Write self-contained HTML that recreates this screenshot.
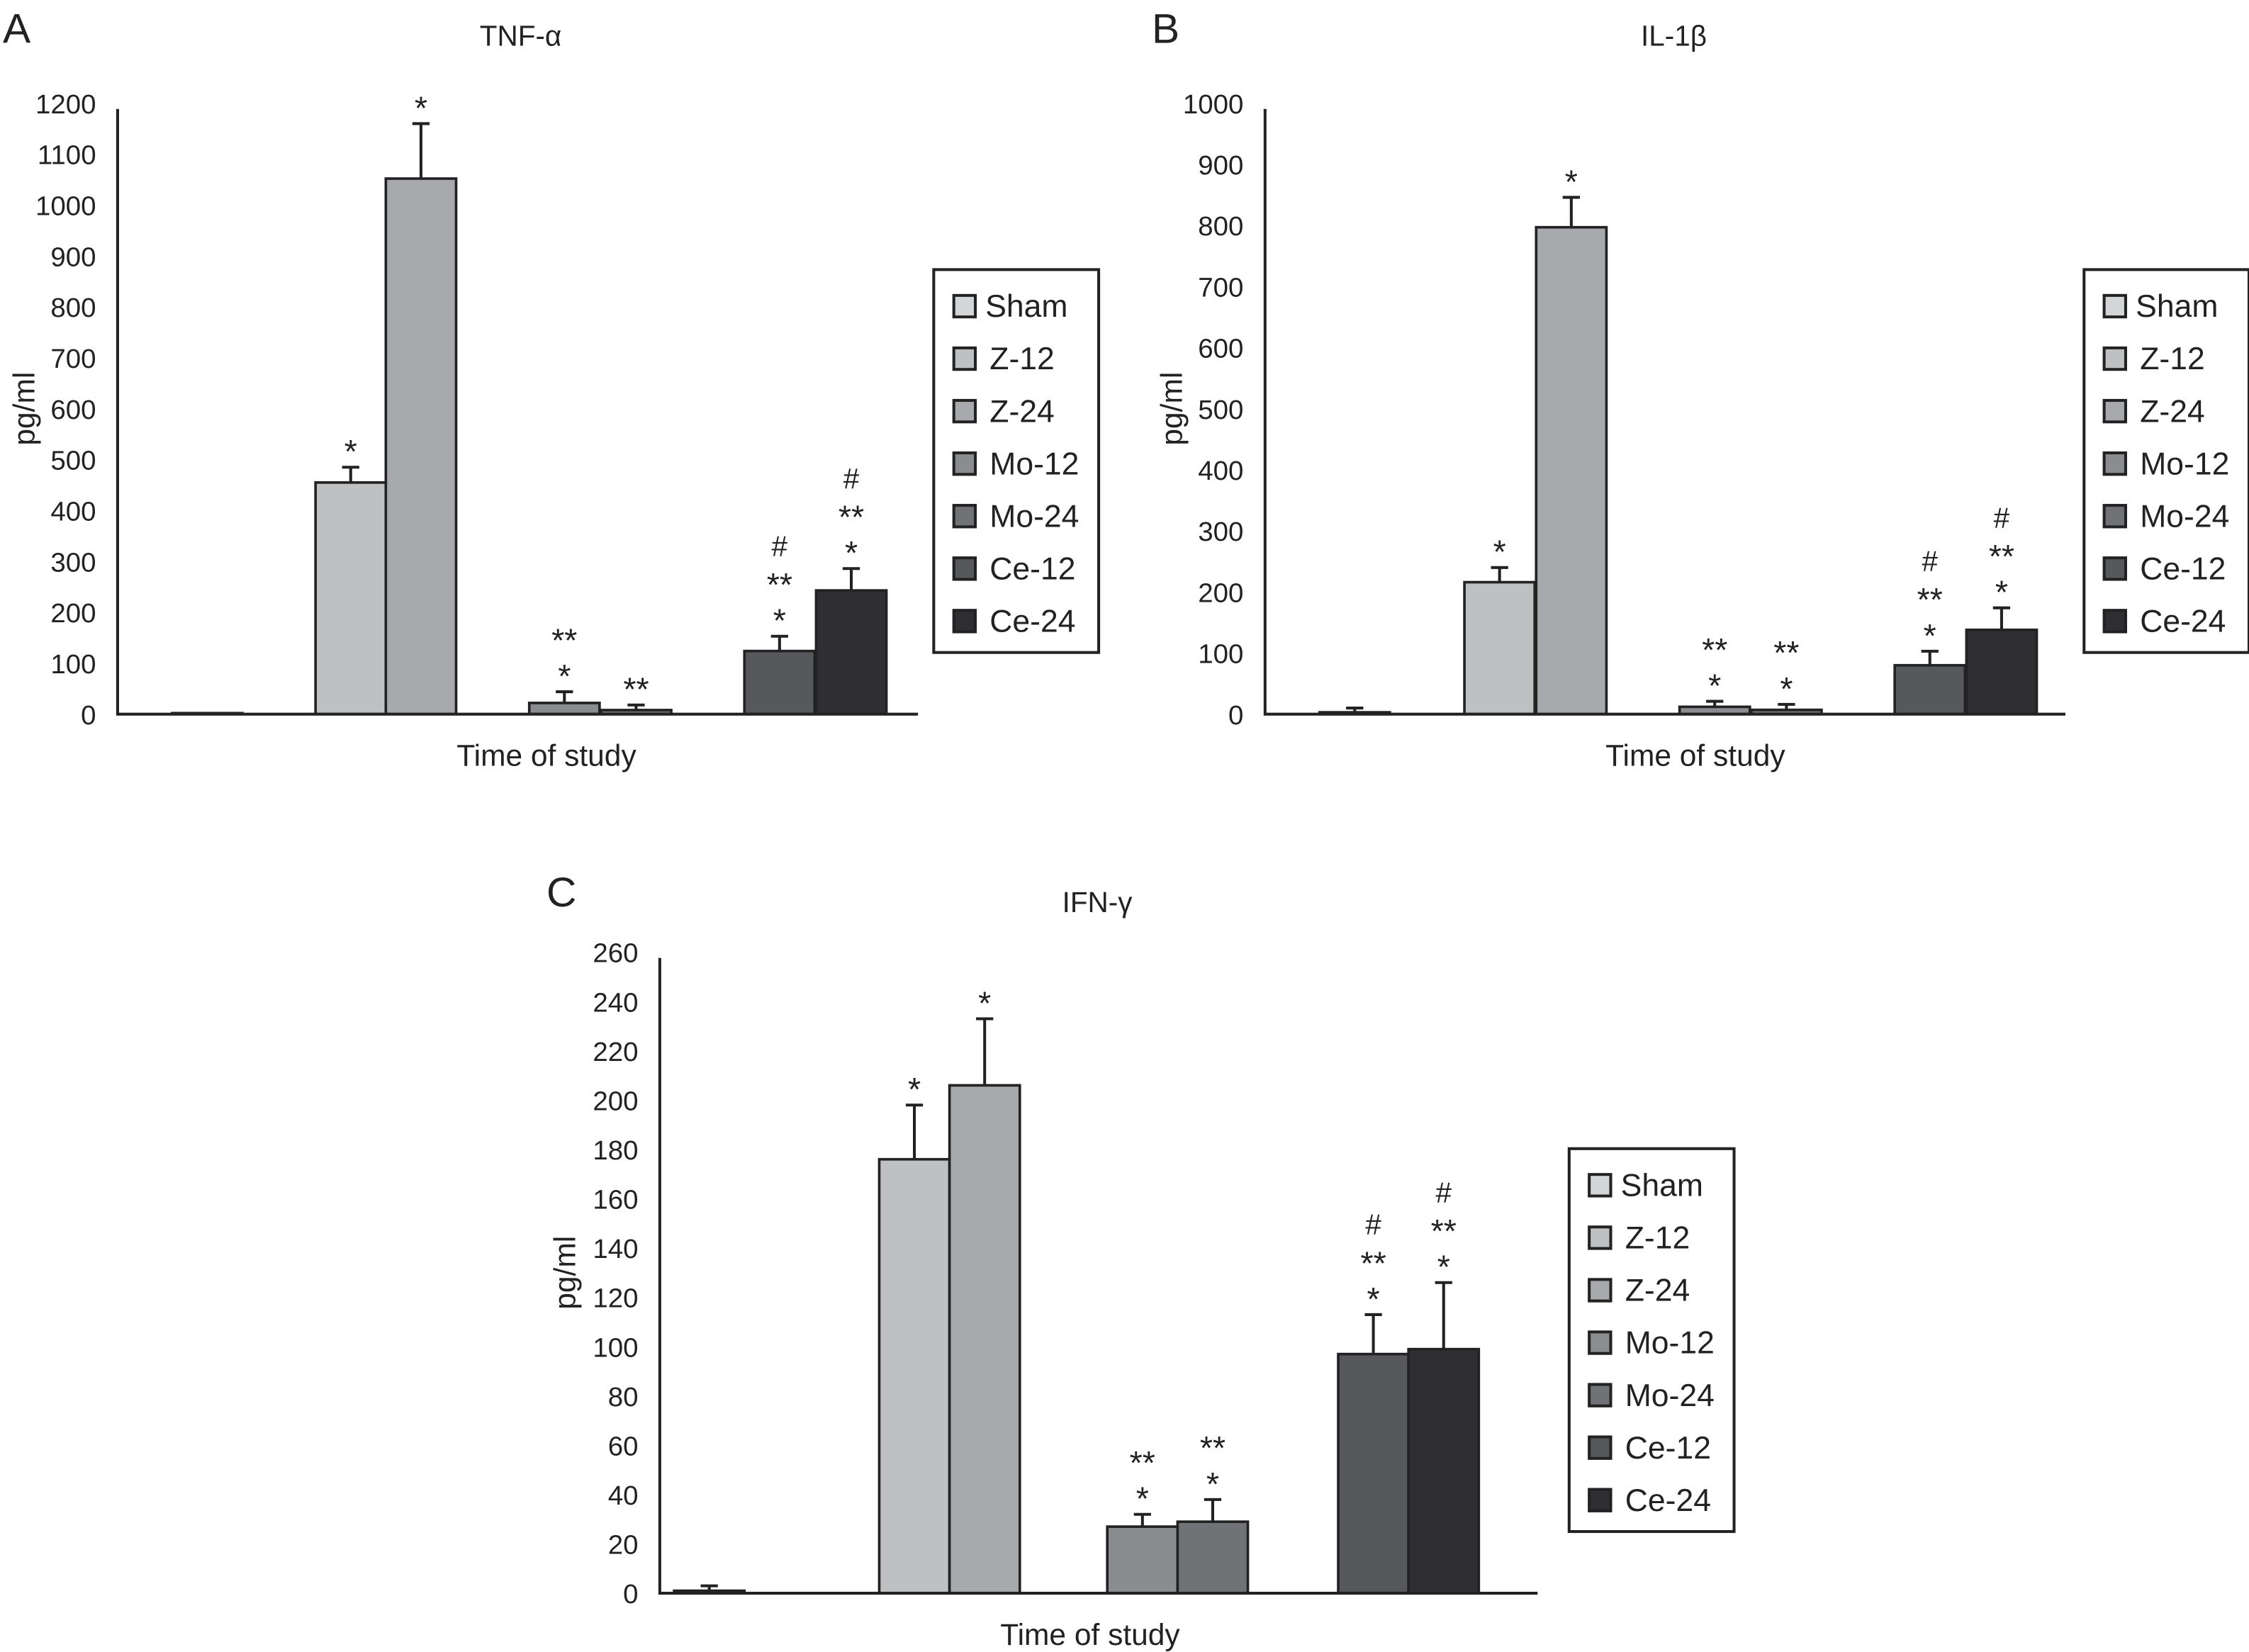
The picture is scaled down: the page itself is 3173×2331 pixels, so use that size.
<!DOCTYPE html>
<html><head><meta charset="utf-8"><style>
html,body{margin:0;padding:0;background:#fff;}
svg{display:block;font-family:"Liberation Sans",sans-serif;}
</style></head><body>
<svg id="fig" width="3173" height="2331" viewBox="0 0 1568 1152" preserveAspectRatio="none"></svg>
<script>
const seriesNames = ["Sham","Z-12","Z-24","Mo-12","Mo-24","Ce-12","Ce-24"];
const seriesColors = ["#d4d5d7","#bfc0c2","#a8a9ac","#8b8c8f","#717275","#57585b","#2f2e33"];

const tnfValues = [2,455,1052,22,8,124,243];
const tnfErrors = [0,30,108,22,10,29,43];
const tnfAnnots = ["","*","*","*|**","**","*|**|#","*|**|#"];
const tnfTicks = [0,100,200,300,400,500,600,700,800,900,1000,1100,1200];

const ilValues = [3,216,797,12,7,80,138];
const ilErrors = [7,24,49,9,9,23,36];
const ilAnnots = ["","*","*","*|**","*|**","*|**|#","*|**|#"];
const ilTicks = [0,100,200,300,400,500,600,700,800,900,1000];

const ifnValues = [1,176,206,27,29,97,99];
const ifnErrors = [2,22,27,5,9,16,27];
const ifnAnnots = ["","*","*","*|**","*|**","*|**|#","*|**|#"];
const ifnTicks = [0,20,40,60,80,100,120,140,160,180,200,220,240,260];

const svg = document.getElementById('fig');
const NS = 'http://www.w3.org/2000/svg';
function mk(tag, attrs, parent, text){
  const e = document.createElementNS(NS, tag);
  for (const k in attrs) e.setAttribute(k, attrs[k]);
  if (text !== undefined) e.textContent = text;
  parent.appendChild(e);
  return e;
}

function drawChart(cfg, values, errors, annots, ticks){
  const g = mk('g', {}, svg);
  
  
  const maxV = ticks[ticks.length-1];
  const yS = v => cfg.y0 - (v / maxV) * (cfg.y0 - cfg.yTop);
  const pl = mk('text', {x: cfg.letterX, y: cfg.letterY, 'font-size': 29, fill: '#222'}, g, cfg.letter);
  
  
  const tt = mk('text', {x: cfg.titleX, y: cfg.titleY, 'font-size': 20, 'text-anchor': 'middle', fill: '#222'}, g, cfg.title);
  
  
  const yl = mk('text', {x: 0, y: 0, 'font-size': 21, 'text-anchor': 'middle', fill: '#222', transform: `translate(${cfg.ylabX},${(cfg.y0+cfg.yTop)/2}) rotate(-90)`}, g, 'pg/ml');
  
  
  ticks.forEach(t => {
    const tl = mk('text', {x: cfg.x0 - 15, y: yS(t) + 7, 'font-size': 19, 'text-anchor': 'end', fill: '#222'}, g, String(t));
    
    
  });
  const bw = cfg.bw;
  values.forEach((v, i) => {
    const x = cfg.barX[i];
    const top = yS(v), et = yS(v + errors[i]);
    const cx = x + bw/2;
    if (errors[i] > 0) {
      const el = mk('path', {d: `M${cx},${top} V${et} M${cx-6},${et} H${cx+6}`, stroke: '#222', 'stroke-width': 2, fill: 'none'}, g);
      
      
    }
    const r = mk('rect', {x: x, y: top, width: bw, height: Math.max(cfg.y0 - top, 0.5), fill: seriesColors[i], stroke: '#222', 'stroke-width': 1.8}, g);
    
    
    if (annots[i]) {
      annots[i].split('|').forEach((s, k) => {
        const yy = et + 2 - k*25;
        const at = mk('text', {x: cx, y: s === '#' ? yy - 8 : yy - 5, 'font-size': s === '#' ? 20 : 23, 'text-anchor': 'middle', fill: '#222'}, g, s);
        
        
      });
    }
  });
  const ax = mk('path', {d: `M${cfg.x0},${cfg.yTop+4} V${cfg.y0} H${cfg.xEnd}`, stroke: '#222', 'stroke-width': 2, fill: 'none'}, g);
  
  
  const xt = mk('text', {x: cfg.xlabX, y: cfg.y0 + 36, 'font-size': 21, 'text-anchor': 'middle', fill: '#222'}, g, 'Time of study');
  
  
  const lg = mk('g', {}, g);
  
  
  mk('rect', {x: cfg.legX, y: cfg.legY, width: 115, height: 267, fill: '#fff', stroke: '#222', 'stroke-width': 2}, lg);
  seriesNames.forEach((n, i) => {
    const cy = cfg.legY + 25 + i * 36.6;
    const le = mk('g', {}, lg);
    
    
    mk('rect', {x: cfg.legX + 14, y: cy - 7, width: 15, height: 15, fill: seriesColors[i], stroke: '#222', 'stroke-width': 2}, le);
    mk('text', {x: cfg.legX + (i===0 ? 36 : 39), y: cy + 8, 'font-size': 22, fill: '#222'}, le, n);
  });
}

drawChart({id:'tnf', letter:'A', letterX:2, letterY:30, title:'TNF-\u03b1', titleX:363, titleY:32,
  ylabX:24, x0:82, y0:498, yTop:72, xEnd:640, xlabX:381, bw:49,
  barX:[120,220,269,369,419,519,569], legX:651, legY:188}, tnfValues, tnfErrors, tnfAnnots, tnfTicks);

drawChart({id:'il1b', letter:'B', letterX:803, letterY:30, title:'IL-1\u03b2', titleX:1167, titleY:32,
  ylabX:824, x0:882, y0:498, yTop:72, xEnd:1440, xlabX:1182, bw:49,
  barX:[920,1021,1071,1171,1221,1321,1371], legX:1453, legY:188}, ilValues, ilErrors, ilAnnots, ilTicks);

drawChart({id:'ifng', letter:'C', letterX:381, letterY:632, title:'IFN-\u03b3', titleX:765, titleY:636,
  ylabX:401, x0:460, y0:1111, yTop:664, xEnd:1072, xlabX:760, bw:49,
  barX:[470,613,662,772,821,933,982], legX:1094, legY:801}, ifnValues, ifnErrors, ifnAnnots, ifnTicks);
</script>
</body></html>
